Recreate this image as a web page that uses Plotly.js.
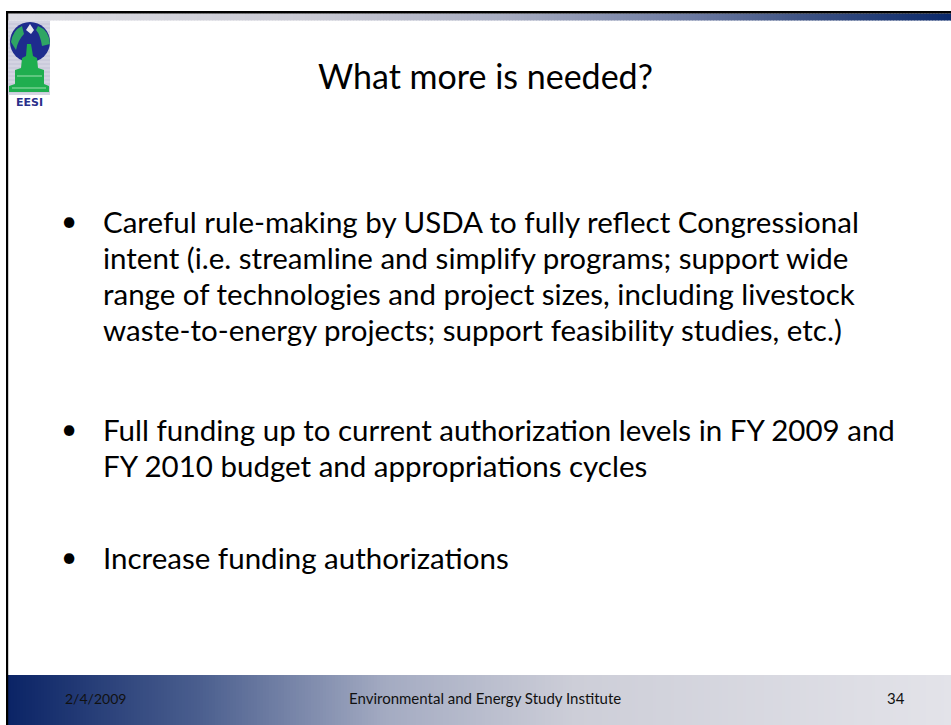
<!DOCTYPE html>
<html>
<head>
<meta charset="utf-8">
<script src="https://cdn.plot.ly/plotly-3.0.1.min.js"></script>
<style>html,body{margin:0;padding:0;background:#fff;overflow:hidden}#chart{width:951px;height:725px}</style>
</head>
<body>
<div id="chart"></div>
<script>
// ---- content ----
const titleText = "What more is needed?";
const bullet1 = [
  "Careful rule-making by USDA to fully reflect Congressional",
  "intent (i.e. streamline and simplify programs; support wide",
  "range of technologies and project sizes, including livestock",
  "waste-to-energy projects; support feasibility studies, etc.)"
];
const bullet2 = [
  "Full funding up to current authorization levels in FY 2009 and",
  "FY 2010 budget and appropriations cycles"
];
const bullet3 = ["Increase funding authorizations"];
const footerDate = "2/4/2009";
const footerCenter = "Environmental and Energy Study Institute";
const footerPage = "34";
const logoText = "EESI";

// ---- layout helpers ----
const W = 951, H = 725;
const paragraphs = [bullet1, bullet2, bullet3];
const paraStartY = [221, 429, 557];
const lineGap = 36;

function hexToRgb(h){return [parseInt(h.substr(1,2),16),parseInt(h.substr(3,2),16),parseInt(h.substr(5,2),16)];}
function interp(stops,t){
  for(let i=0;i<stops.length-1;i++){
    const a=stops[i],b=stops[i+1];
    if(t>=a[0]&&t<=b[0]){
      const f=(t-a[0])/(b[0]-a[0]||1);
      const ca=hexToRgb(a[1]),cb=hexToRgb(b[1]);
      const c=ca.map((v,k)=>Math.round(v+(cb[k]-v)*f));
      return `rgb(${c[0]},${c[1]},${c[2]})`;
    }
  }
  return stops[stops.length-1][1];
}
const shapes = [];
function strips(x0,x1,y0,y1,stops,step){
  for(let x=x0;x<x1;x+=step){
    const t=(x-x0)/(x1-x0);
    shapes.push({type:'rect',xref:'x',yref:'y',x0:x,x1:Math.min(x+step+0.6,x1),y0:y0,y1:y1,
      line:{width:0},fillcolor:interp(stops,t),layer:'below'});
  }
}
// top bar gradient
strips(8,W,13.5,20.5,[[0,'#dcdce3'],[0.31,'#cacad4'],[0.52,'#a9aec3'],[0.73,'#6a78a0'],[0.84,'#3e5384'],[1,'#0a286a']],3);
// footer gradient
strips(8,W,675,H,[[0,'#0b2466'],[0.2,'#4a5e8e'],[0.4,'#a4abc2'],[0.6,'#cdced8'],[1,'#e3e3e9']],3);
// black top line and left border
shapes.push({type:'rect',xref:'x',yref:'y',x0:6,x1:W,y0:11,y1:13.6,line:{width:0},fillcolor:'#000'});
shapes.push({type:'rect',xref:'x',yref:'y',x0:6,x1:8.2,y0:11,y1:H,line:{width:0},fillcolor:'#000'});

// logo (approximate drawing)
shapes.push({type:'rect',xref:'x',yref:'y',x0:8.2,x1:50,y0:20.5,y1:95,line:{width:0},fillcolor:'#d4d4e2'});
for(let y=24;y<95;y+=4){shapes.push({type:'line',xref:'x',yref:'y',x0:8.2,x1:50,y0:y,y1:y,line:{color:'#c2c2d6',width:1}});}
shapes.push({type:'circle',xref:'x',yref:'y',x0:10,x1:50,y0:22,y1:62,line:{width:0},fillcolor:'#1e2c8e'});
shapes.push({type:'path',xref:'x',yref:'y',path:'M 11 42 Q 13 30 22 26 L 24 34 Q 18 40 16 50 Z',line:{width:0},fillcolor:'#2fa564'});
shapes.push({type:'path',xref:'x',yref:'y',path:'M 38 26 Q 49 30 50 44 L 42 46 Q 40 34 36 30 Z',line:{width:0},fillcolor:'#2fa564'});
shapes.push({type:'path',xref:'x',yref:'y',path:'M 26 30 L 30 24 L 34 30 L 31 34 Z',line:{width:0},fillcolor:'#e8e8f0'});
// capitol
shapes.push({type:'path',xref:'x',yref:'y',path:'M 27 44 L 31 44 L 33 56 L 37 58 L 38 68 L 44 70 L 44 84 L 49 86 L 49 92 L 9 92 L 9 86 L 15 84 L 15 70 L 21 68 L 22 58 L 26 56 Z',line:{width:0},fillcolor:'#1fae4f'});
shapes.push({type:'line',xref:'x',yref:'y',x0:17,x1:42,y0:76,y1:76,line:{color:'#9ee0b0',width:1}});
shapes.push({type:'line',xref:'x',yref:'y',x0:12,x1:46,y0:88,y1:88,line:{color:'#9ee0b0',width:1}});

// ---- text ----
const annotations = [];
annotations.push({x:485,y:75,xref:'x',yref:'y',text:titleText,showarrow:false,xanchor:'center',yanchor:'middle',
  font:{family:'Lato, "Open Sans", sans-serif',size:34,color:'#000'}});
paragraphs.forEach((lines,pi)=>{
  annotations.push({x:69,y:paraStartY[pi]-1,xref:'x',yref:'y',text:'•',showarrow:false,xanchor:'center',yanchor:'middle',
    font:{family:'Lato, sans-serif',size:28,color:'#000'}});
  lines.forEach((ln,li)=>{
    annotations.push({x:101,y:paraStartY[pi]+li*lineGap,xref:'x',yref:'y',text:ln,showarrow:false,xanchor:'left',yanchor:'middle',
      font:{family:'Lato, "Open Sans", sans-serif',size:29.5,color:'#000'}});
  });
});
annotations.push({x:63,y:698,xref:'x',yref:'y',text:footerDate,showarrow:false,xanchor:'left',yanchor:'middle',
  font:{family:'Lato, sans-serif',size:14,color:'#111'}});
annotations.push({x:485,y:698,xref:'x',yref:'y',text:footerCenter,showarrow:false,xanchor:'center',yanchor:'middle',
  font:{family:'Lato, sans-serif',size:15,color:'#111'}});
annotations.push({x:907,y:698,xref:'x',yref:'y',text:footerPage,showarrow:false,xanchor:'right',yanchor:'middle',
  font:{family:'Lato, sans-serif',size:15,color:'#111'}});
annotations.push({x:29,y:102,xref:'x',yref:'y',text:'<b>'+logoText+'</b>',showarrow:false,xanchor:'center',yanchor:'middle',
  font:{family:'"DejaVu Sans", sans-serif',size:11,color:'#2a2f8a'}});

const layout = {
  width:W,height:H,margin:{l:0,r:0,t:0,b:0,pad:0},
  paper_bgcolor:'#fff',plot_bgcolor:'#fff',showlegend:false,
  xaxis:{range:[0,W],visible:false,fixedrange:true},
  yaxis:{range:[H,0],visible:false,fixedrange:true},
  shapes:shapes,annotations:annotations
};
Plotly.newPlot('chart',[{x:[],y:[],type:'scatter',mode:'markers',hoverinfo:'skip'}],layout,{displayModeBar:false,staticPlot:true});
</script>
</body>
</html>
